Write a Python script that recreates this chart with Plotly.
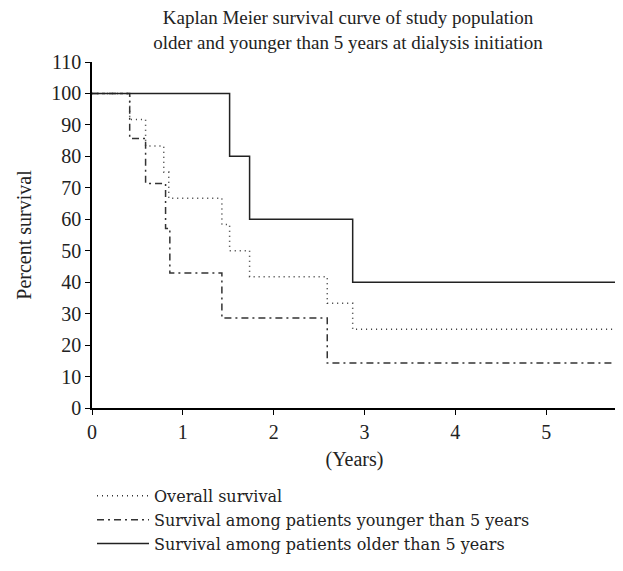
import plotly.graph_objects as go

# Data (time in years, percent survival)
overall_t = [0, 0.415, 0.59, 0.79, 0.845, 1.43, 1.515, 1.735, 2.59, 2.87, 5.78]
overall_s = [100, 91.7, 83.3, 75.0, 66.7, 58.3, 50.0, 41.7, 33.3, 25.0, 25.0]

younger_t = [0, 0.415, 0.59, 0.81, 0.857, 1.43, 2.59, 5.78]
younger_s = [100, 85.7, 71.4, 57.1, 42.9, 28.6, 14.3, 14.3]

older_t = [0, 1.515, 1.735, 2.87, 5.78]
older_s = [100, 80.0, 60.0, 40.0, 40.0]

x_ticks = [0, 1, 2, 3, 4, 5]
y_ticks = list(range(0, 111, 10))

FONT = "Liberation Serif"

fig = go.Figure()
fig.add_trace(go.Scatter(x=overall_t, y=overall_s, mode="lines", line_shape="hv",
                         name="Overall survival",
                         line=dict(color="#333333", width=1.5, dash="1px,4px")))
fig.add_trace(go.Scatter(x=younger_t, y=younger_s, mode="lines", line_shape="hv",
                         name="Survival among patients younger than 5 years",
                         line=dict(color="#333333", width=1.5, dash="7px,4px,2px,4px")))
fig.add_trace(go.Scatter(x=older_t, y=older_s, mode="lines", line_shape="hv",
                         name="Survival among patients older than 5 years",
                         line=dict(color="#222222", width=1.5)))

fig.update_layout(
    width=623, height=571,
    margin=dict(l=84, r=14, t=54, b=171, autoexpand=False),
    paper_bgcolor="white", plot_bgcolor="white",
    font=dict(family=FONT, size=20, color="#222222"),
    title=dict(text="Kaplan Meier survival curve of study population<br>older and younger than 5 years at dialysis initiation",
               x=(348 - 8) / 623, xanchor="center", xref="container",
               y=1 - 16 / 571, yanchor="middle", yref="container",
               automargin=False,
               font=dict(family=FONT, size=19, color="#222222")),
    xaxis=dict(range=[0, 5.78], tickvals=x_ticks, ticks="outside", ticklen=5,
               tickcolor="black", tickwidth=1.2, showline=True, linecolor="black",
               linewidth=1.5, showgrid=False, zeroline=False, automargin=False,
               title=dict(text="(Years)", font=dict(family=FONT, size=20), standoff=10)),
    yaxis=dict(range=[0, 110], tickvals=y_ticks, ticks="outside", ticklen=5,
               tickcolor="black", tickwidth=1.2, showline=True, linecolor="black",
               linewidth=1.5, showgrid=False, zeroline=False, automargin=False,
               title=dict(text="Percent survival", font=dict(family=FONT, size=20), standoff=14)),
    legend=dict(x=0.0, xanchor="left", y=-0.205, yanchor="top",
                font=dict(family="DejaVu Serif", size=16, color="#222222"),
                itemwidth=52, tracegroupgap=0, bgcolor="rgba(0,0,0,0)"),
    showlegend=True,
)

fig.write_html("out.html")
